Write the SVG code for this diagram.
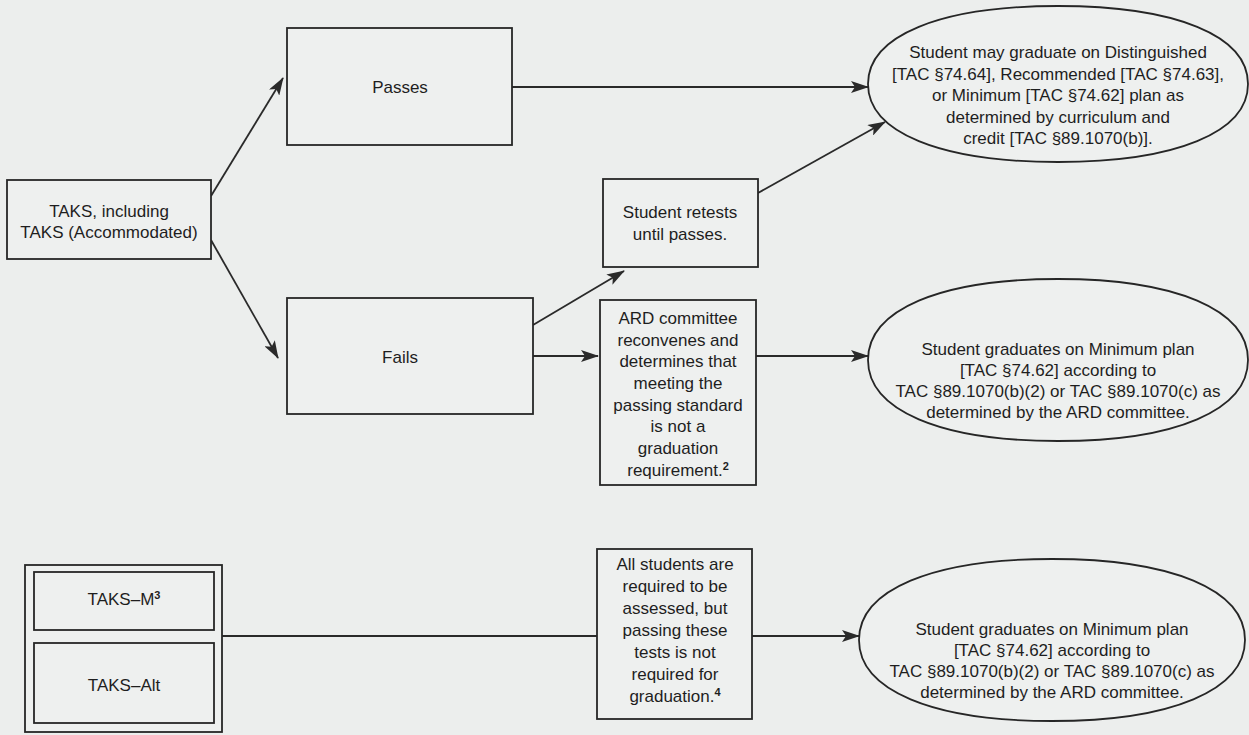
<svg xmlns="http://www.w3.org/2000/svg" width="1249" height="735" viewBox="0 0 1249 735">
<style>
.bg{fill:#eceeed}
.box{fill:#eef0ef;stroke:#262626;stroke-width:1.8}
.ell{fill:#eef0ef;stroke:#262626;stroke-width:1.8}
.t{font-family:"Liberation Sans",Arial,sans-serif;font-size:17px;fill:#1e1e1e;text-anchor:middle}
.sup{font-size:11px;font-weight:bold}
.c{stroke:#2a2a2a;stroke-width:1.8;fill:none}
</style>
<defs>
<marker id="ah" markerWidth="18" markerHeight="12" refX="17" refY="6" orient="auto" markerUnits="userSpaceOnUse">
<path d="M0,0 L18,6 L0,12 L4,6 Z" fill="#2a2a2a"/>
</marker>
</defs>
<rect class="bg" x="0" y="0" width="1249" height="735"/>
<g id="connectors">
<line class="c" x1="211" y1="196" x2="283" y2="78" marker-end="url(#ah)"/>
<line class="c" x1="211" y1="240" x2="278" y2="358" marker-end="url(#ah)"/>
<line class="c" x1="512" y1="87" x2="868" y2="87" marker-end="url(#ah)"/>
<line class="c" x1="758" y1="193" x2="885" y2="122" marker-end="url(#ah)"/>
<line class="c" x1="533" y1="325" x2="624" y2="271" marker-end="url(#ah)"/>
<line class="c" x1="533" y1="356" x2="598" y2="356" marker-end="url(#ah)"/>
<line class="c" x1="756" y1="356" x2="868" y2="356" marker-end="url(#ah)"/>
<line class="c" x1="222" y1="636" x2="597" y2="636"/>
<line class="c" x1="752" y1="636" x2="859" y2="636" marker-end="url(#ah)"/>
</g>
<g id="taks">
<rect class="box" x="7" y="180" width="204" height="79"/>
<text class="t" x="109" y="217">TAKS, including</text>
<text class="t" x="109" y="238">TAKS (Accommodated)</text>
</g>
<g id="passes">
<rect class="box" x="287" y="28" width="225" height="117"/>
<text class="t" x="400" y="93">Passes</text>
</g>
<g id="fails">
<rect class="box" x="287" y="298" width="246" height="116"/>
<text class="t" x="400" y="363">Fails</text>
</g>
<g id="retests">
<rect class="box" x="603" y="179" width="155" height="88"/>
<text class="t" x="680" y="218">Student retests</text>
<text class="t" x="680" y="240">until passes.</text>
</g>
<g id="ard">
<rect class="box" x="600" y="300" width="156" height="185"/>
<text class="t" x="678" y="324">ARD committee</text>
<text class="t" x="678" y="346">reconvenes and</text>
<text class="t" x="678" y="367">determines that</text>
<text class="t" x="678" y="389">meeting the</text>
<text class="t" x="678" y="411">passing standard</text>
<text class="t" x="678" y="432">is not a</text>
<text class="t" x="678" y="454">graduation</text>
<text class="t" x="678" y="476">requirement.<tspan class="sup" dy="-6">2</tspan></text>
</g>
<g id="outcome1">
<path class="ell" d="M868,84 C868,35.6 940.2,6 1058,6 C1175.8,6 1248,35.6 1248,84 C1248,132.4 1175.8,162 1058,162 C940.2,162 868,132.4 868,84 Z"/>
<text class="t" x="1058" y="58">Student may graduate on Distinguished</text>
<text class="t" x="1058" y="80">[TAC §74.64], Recommended [TAC §74.63],</text>
<text class="t" x="1058" y="101">or Minimum [TAC §74.62] plan as</text>
<text class="t" x="1058" y="123">determined by curriculum and</text>
<text class="t" x="1058" y="144">credit [TAC §89.1070(b)].</text>
</g>
<g id="outcome2">
<path class="ell" d="M868,360 C868,309.8 940.2,279 1058,279 C1175.8,279 1248,309.8 1248,360 C1248,410.2 1175.8,441 1058,441 C940.2,441 868,410.2 868,360 Z"/>
<text class="t" x="1058" y="355">Student graduates on Minimum plan</text>
<text class="t" x="1058" y="376">[TAC §74.62] according to</text>
<text class="t" x="1058" y="397">TAC §89.1070(b)(2) or TAC §89.1070(c) as</text>
<text class="t" x="1058" y="418">determined by the ARD committee.</text>
</g>
<g id="alt-group">
<rect class="box" x="25" y="565" width="197" height="167"/>
</g>
<g id="taks-m">
<rect class="box" x="34" y="572" width="180" height="58"/>
<text class="t" x="124" y="605">TAKS–M<tspan class="sup" dy="-6">3</tspan></text>
</g>
<g id="taks-alt">
<rect class="box" x="34" y="643" width="180" height="80"/>
<text class="t" x="124" y="691">TAKS–Alt</text>
</g>
<g id="all-students">
<rect class="box" x="597" y="549" width="155" height="170"/>
<text class="t" x="675" y="570">All students are</text>
<text class="t" x="675" y="592">required to be</text>
<text class="t" x="675" y="614">assessed, but</text>
<text class="t" x="675" y="636">passing these</text>
<text class="t" x="675" y="658">tests is not</text>
<text class="t" x="675" y="680">required for</text>
<text class="t" x="675" y="702">graduation.<tspan class="sup" dy="-6">4</tspan></text>
</g>
<g id="outcome3">
<path class="ell" d="M859,640 C859,589.8 932.3,559 1052,559 C1171.7,559 1245,589.8 1245,640 C1245,690.2 1171.7,721 1052,721 C932.3,721 859,690.2 859,640 Z"/>
<text class="t" x="1052" y="635">Student graduates on Minimum plan</text>
<text class="t" x="1052" y="656">[TAC §74.62] according to</text>
<text class="t" x="1052" y="677">TAC §89.1070(b)(2) or TAC §89.1070(c) as</text>
<text class="t" x="1052" y="698">determined by the ARD committee.</text>
</g>
</svg>
